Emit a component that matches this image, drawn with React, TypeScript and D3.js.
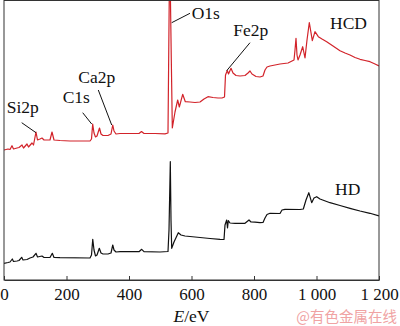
import React, { useEffect, useRef } from 'react';
import * as d3 from 'd3';

// XPS survey spectra, binding energy (eV) vs intensity (a.u., arbitrary)
const hcdEnergy = [
  0, 12.8, 19.2, 25.6, 30.4, 41.6, 48, 57.6, 62.4, 73.6, 78.4, 89.6, 94.4, 102.4, 107.2,
  115.2, 121.6, 128, 147.2, 153.6, 160, 179.2, 211.2, 243.2, 275.2, 280, 283.8, 288, 292.8,
  297.6, 305.6, 310.4, 316.8, 332.8, 342.4, 348, 352, 358.4, 371.2, 403.2, 432, 440, 448,
  483.2, 515.2, 524.8, 529, 532.2, 535.4, 538.6, 547.2, 555.8, 561, 571.8, 580.2, 595.2,
  611.2, 627.2, 640, 652.8, 668.8, 684.8, 697.6, 705.6, 708.8, 714.6, 718.4, 726.4, 732.8,
  742.4, 755.2, 771.2, 780.8, 787.2, 793.6, 806.4, 819.2, 828.8, 835.2, 841.6, 851.2, 867.2,
  883.2, 908.8, 921.6, 928, 931.2, 934.4, 937.6, 940.8, 947.2, 955.8, 963.2, 969.6, 977,
  986.6, 995.2, 1005.8, 1017.6, 1032.6, 1052.8, 1075.2, 1091.2, 1107.2, 1123.2, 1139.2,
  1155.2, 1171.2, 1187.2, 1200,
];
const hcdIntensity = [
  130, 131, 130.5, 134.3, 131, 132, 132.5, 135, 132, 136, 133, 137, 135, 148, 140,
  141, 142, 140, 140, 148, 140, 139.5, 139, 139, 139, 141, 156, 147, 143,
  144, 152, 146, 144.5, 144.5, 146, 155, 149, 146, 146.5, 146.5, 146.5, 148.5, 146.5,
  146.5, 146.2, 147, 290, 290, 220, 152, 168, 180, 173, 185.7, 178.3, 178,
  177.5, 178, 181, 183.3, 182.5, 182, 182, 183, 205, 209.5, 206, 211.7, 207,
  204.5, 204, 204.5, 207, 209, 206, 203.5, 203, 204, 210, 213, 214, 215,
  216, 217, 219, 220, 230, 241.7, 225, 220, 225, 233.3, 222, 240, 257.5,
  239.3, 248.3, 243.3, 241, 238.3, 234, 229.3, 227, 225, 222.5, 220.7,
  219.5, 218.3, 216, 214,
];

const hdEnergy = [
  0, 12.8, 19.2, 26.6, 30.4, 41.6, 48, 56.6, 60.8, 73.6, 83.2, 92.8, 102.4, 107.2,
  121.6, 128, 147.2, 154.6, 160, 179.2, 275.2, 280, 284, 288, 292.8, 297.6, 305, 310.4,
  316.8, 332.8, 342.4, 348, 352, 358.4, 371.2, 432, 440.6, 448, 499.2, 524.8, 528,
  532.2, 534.4, 536.6, 544, 557.8, 566.4, 579.2, 627.2, 659.2, 691.2, 704, 707.2, 712.6,
  715.2, 717.8, 723.2, 739.2, 771.2, 784, 790.4, 803.2, 819.2, 828.8, 835.2, 841.6, 851.2,
  883.2, 889.6, 899.2, 947.2, 957.8, 966.4, 975.4, 984.6, 992, 1000.6, 1011.2, 1043.2,
  1075.2, 1107.2, 1139.2, 1171.2, 1200,
];
const hdIntensity = [
  16.7, 17.5, 18, 21, 18.5, 19, 19.5, 22.7, 20, 20.5, 22, 23, 26.7, 23,
  24, 22.5, 22.5, 26.7, 22.5, 22.3, 22, 25, 40.7, 30, 24, 25, 31.7, 27,
  26, 26, 27, 35, 30, 28, 28.3, 28.3, 30.7, 28.3, 28, 28.5, 50,
  118.3, 60, 31.7, 38, 47.3, 45, 44, 42.5, 41.5, 40.7, 40.5, 55, 60,
  52, 59.3, 57, 56.7, 56.7, 60, 58, 57.8, 57.3, 57.5, 62, 65.5, 66.7,
  66.5, 70, 70.7, 70.5, 71, 80, 87.3, 77.3, 82, 83.3, 81, 77.3,
  74.5, 71.7, 69, 66.7, 64,
];

const xTicks = [0, 200, 400, 600, 800, 1000, 1200];

const peakLabels = ['Si2p', 'C1s', 'Ca2p', 'O1s', 'Fe2p'];
const peakEnergy = [102.4, 280.6, 344.6, 536.6, 712.6];
const peakTipIntensity = [147.3, 156, 155, 257.3, 209.3];

const seriesNames = ['HCD', 'HD'];

// leader line end offsets and text offsets (px), relative to peak tip
const labelLayout = [
  { lx: -14.3, ly: -10, tx: -29.3, ty: -19.4 },
  { lx: -9, ly: -11.3, tx: -29, ty: -21.3 },
  { lx: -13.4, ly: -35, tx: -33.4, ty: -41.7 },
  { lx: 18.3, ly: -9.4, tx: 20, ty: -3.7 },
  { lx: 23.3, ly: -28, tx: 6.6, ty: -34.7 },
];

const W = 400;
const H = 326;
const SERIF = '"Liberation Serif", "Times New Roman", serif';

export default function App() {
  const svgRef = useRef<SVGSVGElement>(null);

  useEffect(() => {
    const svg = d3.select(svgRef.current);
    svg.selectAll('*').remove();

    const margin = { top: 0.5, right: 21, bottom: 46, left: 4 };
    const innerW = W - margin.left - margin.right;
    const innerH = H - margin.top - margin.bottom;

    const x = d3.scaleLinear().domain([0, 1200]).range([margin.left, margin.left + innerW]);
    const y = d3.scaleLinear().domain([0, 279.5]).range([margin.top + innerH, margin.top]);

    svg.append('defs').append('clipPath').attr('id', 'plot-clip')
      .append('rect')
      .attr('x', margin.left).attr('y', margin.top)
      .attr('width', innerW).attr('height', innerH);

    const line = d3.line<[number, number]>()
      .x(d => x(d[0]))
      .y(d => y(d[1]));

    const hcd = hcdEnergy.map((e, i) => [e, hcdIntensity[i]] as [number, number]);
    const hd = hdEnergy.map((e, i) => [e, hdIntensity[i]] as [number, number]);

    const plot = svg.append('g').attr('clip-path', 'url(#plot-clip)');
    plot.append('path')
      .attr('d', line(hcd))
      .attr('fill', 'none')
      .attr('stroke', '#d2232a')
      .attr('stroke-width', 1.2)
      .attr('stroke-linejoin', 'round');
    plot.append('path')
      .attr('d', line(hd))
      .attr('fill', 'none')
      .attr('stroke', '#111')
      .attr('stroke-width', 1.2)
      .attr('stroke-linejoin', 'round');

    // frame
    svg.append('rect')
      .attr('x', margin.left).attr('y', margin.top)
      .attr('width', innerW).attr('height', innerH)
      .attr('fill', 'none')
      .attr('stroke', '#333')
      .attr('stroke-width', 1);

    const fmt = (d: number) => d < 1000 ? String(d) : `${Math.floor(d / 1000)} ${String(d % 1000).padStart(3, '0')}`;
    const xAxis = d3.axisBottom(x)
      .tickValues(xTicks)
      .tickSizeInner(-4)
      .tickSizeOuter(0)
      .tickPadding(8)
      .tickFormat(d => fmt(+d));

    const gx = svg.append('g')
      .attr('transform', `translate(0,${margin.top + innerH})`)
      .call(xAxis);
    gx.select('.domain').attr('stroke', '#333');
    gx.selectAll('line').attr('stroke', '#333');
    gx.selectAll('text')
      .attr('fill', '#111')
      .style('font-family', SERIF)
      .style('font-size', '17px');

    // axis title
    const title = svg.append('text')
      .attr('x', x(600))
      .attr('y', 322)
      .attr('text-anchor', 'middle')
      .style('font-family', SERIF)
      .style('font-size', '17.5px')
      .attr('fill', '#111');
    title.append('tspan').style('font-style', 'italic').text('E');
    title.append('tspan').text('/eV');

    // peak annotations
    peakLabels.forEach((label, i) => {
      const px = x(peakEnergy[i]);
      const py = y(peakTipIntensity[i]);
      const l = labelLayout[i];
      svg.append('line')
        .attr('x1', px).attr('y1', py)
        .attr('x2', px + l.lx).attr('y2', py + l.ly)
        .attr('stroke', '#111')
        .attr('stroke-width', 1);
      svg.append('text')
        .attr('x', px + l.tx).attr('y', py + l.ty)
        .style('font-family', SERIF)
        .style('font-size', '17.5px')
        .attr('fill', '#111')
        .text(label);
    });

    // series names
    svg.append('text')
      .attr('x', 330).attr('y', 29.3)
      .style('font-family', SERIF).style('font-size', '17.5px')
      .attr('fill', '#111')
      .text(seriesNames[0]);
    svg.append('text')
      .attr('x', 335).attr('y', 195)
      .style('font-family', SERIF).style('font-size', '17.5px')
      .attr('fill', '#111')
      .text(seriesNames[1]);

    // watermark
    svg.append('text')
      .attr('x', 397).attr('y', 322)
      .attr('text-anchor', 'end')
      .style('font-family', '"Noto Sans CJK SC", sans-serif')
      .style('font-size', '14.5px')
      .attr('fill', '#f0a3a3')
      .text('@有色金属在线');
  }, []);

  return (
    <svg
      ref={svgRef}
      width={W}
      height={H}
      style={{ position: 'absolute', left: 0, top: 0, background: 'white' }}
    />
  );
}
